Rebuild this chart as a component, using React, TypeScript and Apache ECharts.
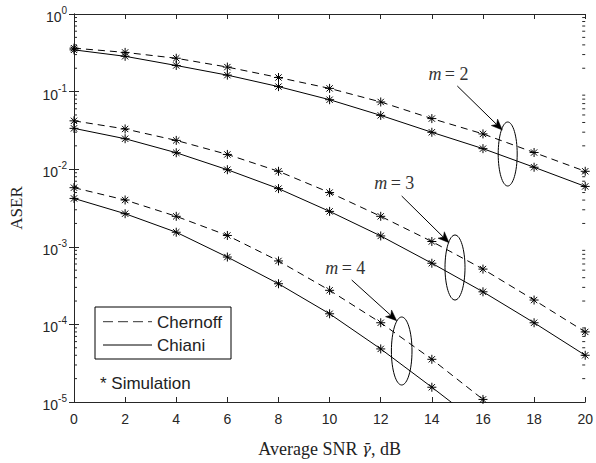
import React, { useEffect, useRef } from "react";
import * as echarts from "echarts";

const snr = [0, 2, 4, 6, 8, 10, 12, 14, 16, 18, 20];
const m2Chernoff = [0.363, 0.32, 0.269, 0.207, 0.152, 0.11, 0.0735, 0.0449, 0.0285, 0.0164, 0.0094];
const m2Chiani = [0.345, 0.285, 0.217, 0.163, 0.116, 0.0786, 0.0494, 0.0299, 0.0184, 0.0106, 0.006];
const m3Chernoff = [0.042, 0.033, 0.0235, 0.0155, 0.0094, 0.005, 0.00247, 0.00117, 0.000516, 0.000206, 0.00008];
const m3Chiani = [0.0336, 0.0247, 0.0163, 0.00985, 0.00562, 0.00286, 0.00138, 0.000614, 0.000263, 0.000105, 0.00004];
const m4Chernoff = [0.00578, 0.00401, 0.00247, 0.0014, 0.000657, 0.000275, 0.000105, 0.0000355, 0.0000108];
const m4Chiani = [0.0042, 0.00267, 0.00154, 0.000738, 0.000334, 0.000137, 0.0000483, 0.0000155, 0.0000048];

const decades = [-5, -4, -3, -2, -1, 0];

const asterisk = "path://M5,0L5,10M0,5L10,5M1.5,1.5L8.5,8.5M1.5,8.5L8.5,1.5";
const AX = "#262626";

function lineSeries(name: string, ys: number[], dashed: boolean) {
  return {
    type: "line",
    name,
    data: ys.map((y, i) => [snr[i], y]),
    symbol: asterisk,
    symbolSize: 9,
    showSymbol: true,
    showAllSymbol: true,
    lineStyle: { color: "#000", width: 1, type: dashed ? [7, 5] : "solid" },
    itemStyle: { color: "#000", borderColor: "#000", borderWidth: 1 },
    emphasis: { disabled: true },
    clip: true,
    z: 3,
  };
}

function arrow(x1: number, y1: number, x2: number, y2: number) {
  const dx = x2 - x1, dy = y2 - y1;
  const L = Math.hypot(dx, dy);
  const ux = dx / L, uy = dy / L;
  const nx = -uy, ny = ux;
  const len = 11, hw = 4.5, ind = 3;
  const bx = x2 - ux * len, by = y2 - uy * len;
  return [
    { type: "line", shape: { x1, y1, x2: bx + ux * ind, y2: by + uy * ind }, style: { stroke: "#000", lineWidth: 1 }, z: 10 },
    {
      type: "polygon",
      shape: {
        points: [
          [x2, y2],
          [bx + nx * hw, by + ny * hw],
          [bx + ux * ind, by + uy * ind],
          [bx - nx * hw, by - ny * hw],
        ],
      },
      style: { fill: "#000", stroke: "#000", lineWidth: 0.5 },
      z: 10,
    },
  ];
}

function mLabel(text: string, cx: number, cy: number) {
  return {
    type: "text",
    x: cx,
    y: cy,
    z: 10,
    style: {
      text: `{i|m} {n|= ${text}}`,
      align: "center",
      verticalAlign: "middle",
      rich: {
        i: { fontFamily: "Liberation Serif", fontStyle: "italic", fontSize: 18, fill: "#333" },
        n: { fontFamily: "Liberation Serif", fontSize: 18, fill: "#333" },
      },
    },
  };
}

function ellipse(cx: number, cy: number, rx: number, ry: number) {
  return {
    type: "ellipse",
    shape: { cx, cy, rx, ry },
    style: { fill: "none", stroke: "#000", lineWidth: 1 },
    z: 10,
  };
}

export default function App() {
  const ref = useRef<HTMLDivElement>(null);
  useEffect(() => {
    if (!ref.current) return;
    const chart = echarts.init(ref.current, undefined, { renderer: "svg" });
    const minorVals: number[] = [];
    decades.slice(0, -1).forEach((d) => {
      for (let k = 2; k <= 9; k++) minorVals.push(k * Math.pow(10, d));
    });
    const logLabel = (v: number) => {
      const e = Math.round(Math.log10(v));
      return `{b|10}{s|${e}}`;
    };
    const option: any = {
      animation: false,
      backgroundColor: "#fff",
      grid: { left: 69, top: 14, width: 517, height: 397, containLabel: false },
      xAxis: [
        {
          type: "value",
          min: 0,
          max: 20,
          interval: 2,
          position: "bottom",
          axisLine: { show: true, lineStyle: { color: AX, width: 1 } },
          axisTick: { show: true, inside: true, length: 5, lineStyle: { color: AX } },
          axisLabel: { color: AX, fontFamily: "Liberation Sans", fontSize: 14, margin: 10 },
          splitLine: { show: false },
          name: "{n|Average SNR }{g|γ̄}{n|, dB}",
          nameLocation: "middle",
          nameGap: 38,
          nameTextStyle: {
            rich: {
              n: { fontFamily: "Liberation Serif", fontSize: 18, color: "#222" },
              g: { fontFamily: "DejaVu Serif", fontStyle: "italic", fontSize: 15, color: "#222" },
            },
          },
        },
        {
          type: "value",
          min: 0,
          max: 20,
          interval: 2,
          position: "top",
          axisLine: { show: true, lineStyle: { color: AX, width: 1 } },
          axisTick: { show: true, inside: true, length: 5, lineStyle: { color: AX } },
          axisLabel: { show: false },
          splitLine: { show: false },
        },
      ],
      yAxis: [
        {
          type: "log",
          logBase: 10,
          min: 1e-5,
          max: 1,
          position: "left",
          axisLine: { show: true, lineStyle: { color: AX, width: 1 } },
          axisTick: { show: true, inside: true, length: 5, lineStyle: { color: AX } },
          axisLabel: {
            color: AX,
            margin: 7,
            formatter: logLabel,
            rich: {
              b: { fontFamily: "Liberation Sans", fontSize: 14, color: AX, padding: [6, 0, 0, 0] },
              s: { fontFamily: "Liberation Sans", fontSize: 10, color: AX, padding: [0, 0, 7, 0] },
            },
          },
          splitLine: { show: false },
          name: "ASER",
          nameLocation: "middle",
          nameGap: 49,
          nameRotate: 90,
          nameTextStyle: { fontFamily: "Liberation Serif", fontSize: 17, color: "#222" },
        },
        {
          type: "log",
          logBase: 10,
          min: 1e-5,
          max: 1,
          position: "right",
          axisLine: { show: true, lineStyle: { color: AX, width: 1 } },
          axisTick: { show: true, inside: true, length: 5, lineStyle: { color: AX } },
          axisLabel: { show: false },
          splitLine: { show: false },
        },
      ],
      series: [
        lineSeries("m2 Chernoff", m2Chernoff, true),
        lineSeries("m2 Chiani", m2Chiani, false),
        lineSeries("m3 Chernoff", m3Chernoff, true),
        lineSeries("m3 Chiani", m3Chiani, false),
        lineSeries("m4 Chernoff", m4Chernoff, true),
        lineSeries("m4 Chiani", m4Chiani, false),
        {
          type: "custom",
          name: "minor ticks",
          silent: true,
          clip: false,
          data: minorVals.map((v) => [0, v]),
          renderItem: (params: any, api: any) => {
            const v = api.value(1);
            const pL = api.coord([0, v]);
            const pR = api.coord([20, v]);
            return {
              type: "group",
              children: [
                { type: "line", shape: { x1: pL[0], y1: pL[1], x2: pL[0] + 3, y2: pL[1] }, style: { stroke: AX, lineWidth: 1 } },
                { type: "line", shape: { x1: pR[0] - 3, y1: pR[1], x2: pR[0], y2: pR[1] }, style: { stroke: AX, lineWidth: 1 } },
              ],
            };
          },
        },
      ],
      graphic: [
        ellipse(507.7, 154, 9.5, 32),
        ellipse(455, 267.5, 10, 32.5),
        ellipse(401.7, 351, 10.3, 34),
        mLabel("2", 448.5, 74),
        mLabel("3", 394.3, 182.7),
        mLabel("4", 345.3, 268.3),
        ...arrow(457.3, 86, 502.3, 130),
        ...arrow(401.7, 196, 449, 242.7),
        ...arrow(351.7, 280, 396.7, 320.7),
        {
          type: "rect",
          shape: { x: 95, y: 307, width: 136, height: 52 },
          style: { fill: "#fff", stroke: "#000", lineWidth: 1 },
          z: 20,
        },
        {
          type: "line",
          shape: { x1: 103, y1: 321.7, x2: 152, y2: 321.7 },
          style: { stroke: "#333", lineWidth: 1, lineDash: [10, 5] },
          z: 21,
        },
        {
          type: "line",
          shape: { x1: 103, y1: 345, x2: 152, y2: 345 },
          style: { stroke: "#000", lineWidth: 1 },
          z: 21,
        },
        {
          type: "text",
          x: 157,
          y: 322,
          z: 21,
          style: { text: "Chernoff", fontFamily: "Liberation Sans", fontSize: 17, fill: "#222", verticalAlign: "middle" },
        },
        {
          type: "text",
          x: 157,
          y: 345,
          z: 21,
          style: { text: "Chiani", fontFamily: "Liberation Sans", fontSize: 17, fill: "#222", verticalAlign: "middle" },
        },
        {
          type: "text",
          x: 100,
          y: 383,
          z: 21,
          style: { text: "* Simulation", fontFamily: "Liberation Sans", fontSize: 17, fill: "#222", verticalAlign: "middle" },
        },
      ],
    };
    chart.setOption(option);
    return () => chart.dispose();
  }, []);
  return (
    <div
      ref={ref}
      style={{ position: "fixed", left: 0, top: 0, width: 596, height: 463, background: "#fff" }}
    />
  );
}
